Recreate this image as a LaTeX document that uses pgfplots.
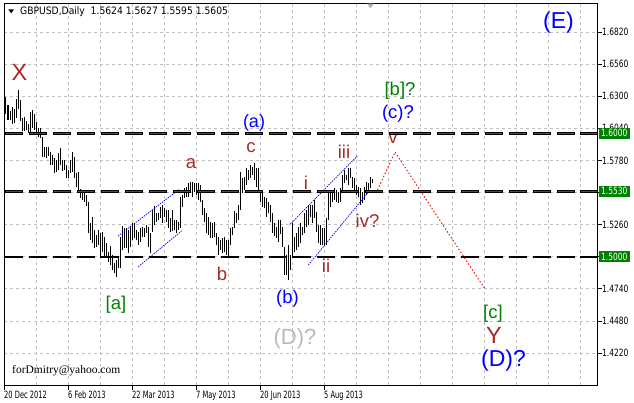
\documentclass[border=0pt]{standalone}
\usepackage{fontspec}
\setmainfont{Liberation Sans}
\newfontfamily\datefont[FakeStretch=0.67]{DejaVu Sans}
\newfontfamily\axfont[FakeStretch=0.75]{DejaVu Sans}
\newfontfamily\hdfont[FakeStretch=0.9]{DejaVu Sans}
\newfontfamily\emailfont{Liberation Serif}
\usepackage{pgfplots}
\usepackage{pgfplotstable}
\pgfplotsset{compat=1.18}
\definecolor{wbrown}{RGB}{165,42,42}
\definecolor{wgreen}{RGB}{0,128,0}
\definecolor{wblue}{RGB}{0,0,255}
\definecolor{wgray}{RGB}{185,185,185}
\definecolor{gridc}{RGB}{192,192,192}

\pgfplotstableread{
x lo hi
1 1.6156 1.6293
2 1.6107 1.6228
3 1.6107 1.6180
4 1.6075 1.6212
5 1.6083 1.6196
6 1.6123 1.6277
7 1.6196 1.6350
8 1.6099 1.6269
9 1.6018 1.6123
10 1.6018 1.6131
11 1.6026 1.6099
12 1.6002 1.6075
13 1.6010 1.6172
14 1.6042 1.6188
15 1.6026 1.6156
16 1.6010 1.6091
17 1.5969 1.6042
18 1.5961 1.6042
19 1.5807 1.5969
20 1.5807 1.5888
21 1.5799 1.5888
22 1.5815 1.5888
23 1.5742 1.5848
24 1.5742 1.5824
25 1.5678 1.5799
26 1.5686 1.5783
27 1.5702 1.5840
28 1.5742 1.5880
29 1.5694 1.5783
30 1.5702 1.5783
31 1.5637 1.5742
32 1.5637 1.5702
33 1.5678 1.5783
34 1.5686 1.5848
35 1.5637 1.5807
36 1.5564 1.5678
37 1.5516 1.5686
38 1.5475 1.5548
39 1.5459 1.5540
40 1.5443 1.5524
41 1.5410 1.5499
42 1.5192 1.5443
43 1.5135 1.5273
44 1.5111 1.5321
45 1.5070 1.5216
46 1.5078 1.5175
47 1.5094 1.5216
48 1.4989 1.5192
49 1.5038 1.5200
50 1.4989 1.5159
51 1.4997 1.5111
52 1.4957 1.5038
53 1.4932 1.5086
54 1.4892 1.5013
55 1.4868 1.4949
56 1.4835 1.4973
57 1.4908 1.4989
58 1.4908 1.5159
59 1.5054 1.5248
60 1.5070 1.5232
61 1.5070 1.5232
62 1.5030 1.5216
63 1.5078 1.5240
64 1.5135 1.5273
65 1.5151 1.5273
66 1.5135 1.5216
67 1.5094 1.5200
68 1.5119 1.5232
69 1.5159 1.5240
70 1.5159 1.5232
71 1.5192 1.5256
72 1.5078 1.5240
73 1.5030 1.5192
74 1.5200 1.5378
75 1.5256 1.5410
76 1.5281 1.5354
77 1.5297 1.5354
78 1.5313 1.5402
79 1.5273 1.5418
80 1.5321 1.5394
81 1.5281 1.5378
82 1.5232 1.5378
83 1.5200 1.5313
84 1.5208 1.5378
85 1.5216 1.5297
86 1.5192 1.5297
87 1.5216 1.5281
88 1.5232 1.5483
89 1.5402 1.5499
90 1.5475 1.5556
91 1.5483 1.5564
92 1.5483 1.5597
93 1.5516 1.5605
94 1.5483 1.5605
95 1.5524 1.5597
96 1.5499 1.5597
97 1.5459 1.5597
98 1.5443 1.5580
99 1.5337 1.5459
100 1.5281 1.5394
101 1.5192 1.5354
102 1.5175 1.5321
103 1.5151 1.5281
104 1.5151 1.5273
105 1.5159 1.5281
106 1.5094 1.5192
107 1.5013 1.5159
108 1.5054 1.5135
109 1.5030 1.5151
110 1.5038 1.5159
111 1.5013 1.5135
112 1.5005 1.5135
113 1.5094 1.5232
114 1.5175 1.5240
115 1.5232 1.5370
116 1.5273 1.5354
117 1.5297 1.5418
118 1.5378 1.5686
119 1.5516 1.5637
120 1.5540 1.5645
121 1.5580 1.5718
122 1.5621 1.5702
123 1.5637 1.5742
124 1.5661 1.5726
125 1.5621 1.5759
126 1.5564 1.5718
127 1.5524 1.5718
128 1.5443 1.5540
129 1.5402 1.5516
130 1.5394 1.5483
131 1.5321 1.5475
132 1.5354 1.5443
133 1.5281 1.5418
134 1.5192 1.5354
135 1.5167 1.5273
136 1.5151 1.5240
137 1.5119 1.5297
138 1.5184 1.5297
139 1.5078 1.5240
140 1.4852 1.5078
141 1.4852 1.5013
142 1.4811 1.5094
143 1.4892 1.5013
144 1.4989 1.5273
145 1.5038 1.5159
146 1.5054 1.5192
147 1.5078 1.5240
148 1.5111 1.5273
149 1.5175 1.5240
150 1.5192 1.5354
151 1.5240 1.5378
152 1.5256 1.5418
153 1.5321 1.5418
154 1.5273 1.5418
155 1.5313 1.5459
156 1.5200 1.5362
157 1.5111 1.5256
158 1.5094 1.5256
159 1.5094 1.5232
160 1.5094 1.5232
161 1.5094 1.5313
162 1.5297 1.5524
163 1.5402 1.5540
164 1.5443 1.5540
165 1.5459 1.5556
166 1.5443 1.5540
167 1.5435 1.5524
168 1.5443 1.5556
169 1.5516 1.5661
170 1.5597 1.5702
171 1.5621 1.5661
172 1.5580 1.5718
173 1.5637 1.5718
174 1.5556 1.5645
175 1.5524 1.5637
176 1.5499 1.5580
177 1.5483 1.5564
178 1.5418 1.5556
179 1.5435 1.5524
180 1.5459 1.5564
181 1.5499 1.5605
182 1.5516 1.5597
183 1.5556 1.5645
184 1.5595 1.5627
}\bars

% centres of the dashes of the three horizontal levels
\pgfplotstableread{
x l1 l2 l3
4.75 1.6 1.553 1.5
16.75 1.6 1.553 1.5
28.75 1.6 1.553 1.5
40.75 1.6 1.553 1.5
52.75 1.6 1.553 1.5
64.75 1.6 1.553 1.5
76.75 1.6 1.553 1.5
88.75 1.6 1.553 1.5
100.75 1.6 1.553 1.5
112.75 1.6 1.553 1.5
124.75 1.6 1.553 1.5
136.75 1.6 1.553 1.5
148.75 1.6 1.553 1.5
160.75 1.6 1.553 1.5
172.75 1.6 1.553 1.5
184.75 1.6 1.553 1.5
196.75 1.6 1.553 1.5
208.75 1.6 1.553 1.5
220.75 1.6 1.553 1.5
232.75 1.6 1.553 1.5
244.75 1.6 1.553 1.5
256.75 1.6 1.553 1.5
268.75 1.6 1.553 1.5
280.75 1.6 1.553 1.5
292.25 1.6 1.553 1.5
}\levels

\begin{document}
\begin{tikzpicture}
\begin{axis}[
  at={(0,0)}, anchor=south west,
  scale only axis, width=593pt, height=382pt,
  xmin=0, xmax=296.5, ymin=1.3961, ymax=1.7055,
  axis line style={black, line width=0.8pt},
  xtick={0,32,64,96,128,160},
  xticklabels={20 Dec 2012,6 Feb 2013,22 Mar 2013,7 May 2013,20 Jun 2013,5 Aug 2013},
  minor xtick={16,48,80,112,144,176,192,208,224,240,256,272,288},
  ytick={1.422,1.448,1.474,1.500,1.526,1.552,1.578,1.604,1.630,1.656,1.682},
  xtick pos=bottom, ytick pos=right, yticklabel pos=right,
  tick align=outside,
  major tick length=5pt, minor tick length=0pt,
  tick style={black, line width=0.7pt},
  grid=both,
  major grid style={gridc, dash pattern=on 3pt off 3pt, line width=0.7pt},
  minor grid style={gridc, dash pattern=on 3pt off 3pt, line width=0.7pt},
  xticklabel style={font=\datefont\fontsize{10}{11}\selectfont, anchor=north west, inner sep=0pt, yshift=-1pt},
  yticklabel style={font=\axfont\fontsize{10}{11}\selectfont, anchor=west, inner sep=0pt, xshift=0pt,
    /pgf/number format/.cd, fixed, fixed zerofill, precision=4, assume math mode=true},
  clip=false,
]
% price bars
\addplot[draw=none, mark=none, forget plot, error bars/.cd, y dir=plus, y explicit, error mark=none,
  error bar style={draw=black, solid, line width=1pt}]
  table[x=x, y=lo, y error expr=\thisrow{hi}-\thisrow{lo}] {\bars};
% channels
\addplot[draw=wblue, mark=none, line width=0.7pt, dash pattern=on 1.5pt off 1pt, forget plot] coordinates {(57,1.5167) (87.65,1.5546)};
\addplot[draw=wblue, mark=none, line width=0.7pt, dash pattern=on 1.5pt off 1pt, forget plot] coordinates {(67.15,1.4919) (88.85,1.5210)};
\addplot[draw=wblue, mark=none, line width=0.7pt, dash pattern=on 1.5pt off 1pt, forget plot] coordinates {(143,1.5262) (176.65,1.5816)};
\addplot[draw=wblue, mark=none, line width=0.7pt, dash pattern=on 1.5pt off 1pt, forget plot] coordinates {(152.15,1.4933) (183,1.5540)};
% projection
\addplot[draw=red, mark=none, line width=0.9pt, dash pattern=on 1.5pt off 2pt, forget plot] coordinates {(186,1.5516) (195.5,1.5848) (240.5,1.4738)};
% horizontal levels: dashes drawn as filled bars (17pt long, 1.3pt thick)
\addplot[only marks, forget plot, mark=square*, mark size=0.65pt,
  mark options={draw=none, fill=wgreen, xscale=13.08}] table[x=x, y=l1] {\levels};
\addplot[only marks, forget plot, mark=square*, mark size=0.65pt,
  mark options={draw=none, fill=wgreen, xscale=13.08}] table[x=x, y=l2] {\levels};
\addplot[only marks, forget plot, mark=square*, mark size=0.65pt,
  mark options={draw=none, fill=wgreen, xscale=13.08}] table[x=x, y=l3] {\levels};

% wave labels
\node[anchor=base, text=wbrown, font=\fontsize{23.5}{24}\selectfont] at (axis cs:7.75,1.6431) {X};
\node[anchor=base, text=wblue, font=\fontsize{18}{20}\selectfont] at (axis cs:125,1.6046) {(a)};
\node[anchor=base, text=wbrown, font=\fontsize{18.5}{20}\selectfont] at (axis cs:93.5,1.5718) {a};
\node[anchor=base, text=wbrown, font=\fontsize{18.5}{20}\selectfont] at (axis cs:123.5,1.5848) {c};
\node[anchor=base, text=wbrown, font=\fontsize{18.5}{20}\selectfont] at (axis cs:151,1.5548) {i};
\node[anchor=base, text=wbrown, font=\fontsize{18.5}{20}\selectfont] at (axis cs:170,1.5799) {iii};
\node[anchor=base, text=wbrown, font=\fontsize{18.5}{20}\selectfont] at (axis cs:194.5,1.5921) {v};
\node[anchor=base, text=wgreen, font=\fontsize{18.5}{20}\selectfont] at (axis cs:198,1.6302) {[b]?};
\node[anchor=base, text=wblue, font=\fontsize{18.5}{20}\selectfont] at (axis cs:197,1.6123) {(c)?};
\node[anchor=base, text=wblue, font=\fontsize{23}{24}\selectfont] at (axis cs:277.25,1.6848) {(E)};
\node[anchor=base, text=wbrown, font=\fontsize{18.5}{20}\selectfont] at (axis cs:181.75,1.5240) {iv?};
\node[anchor=base, text=wbrown, font=\fontsize{18.5}{20}\selectfont] at (axis cs:161,1.4876) {ii};
\node[anchor=base, text=wbrown, font=\fontsize{18.5}{20}\selectfont] at (axis cs:109,1.4811) {b};
\node[anchor=base, text=wgreen, font=\fontsize{18.5}{20}\selectfont] at (axis cs:56,1.4576) {[a]};
\node[anchor=base, text=wblue, font=\fontsize{18.5}{20}\selectfont] at (axis cs:141.75,1.4625) {(b)};
\node[anchor=base, text=wgray, font=\fontsize{22}{24}\selectfont] at (axis cs:145.5,1.4293) {(D)?};
\node[anchor=base, text=wgreen, font=\fontsize{18.5}{20}\selectfont] at (axis cs:244.5,1.4503) {[c]};
\node[anchor=base, text=wbrown, font=\fontsize{23.5}{24}\selectfont] at (axis cs:245,1.4301) {Y};
\node[anchor=base, text=wblue, font=\fontsize{23}{24}\selectfont] at (axis cs:249.75,1.4107) {(D)?};

% email and header
\node[anchor=base west, inner sep=0pt, font=\emailfont\fontsize{11.5}{12}\selectfont] at (axis cs:4,1.4058) {forDmitry@yahoo.com};
\node[anchor=base west, inner sep=0pt, font=\hdfont\fontsize{10.2}{11}\selectfont] at (axis cs:8,1.6958) {GBPUSD,Daily\ \ 1.5624 1.5627 1.5595 1.5605};
\fill[black] (axis cs:2.15,1.7004) -- (axis cs:5,1.7004) -- (axis cs:3.57,1.6971) -- cycle;
\fill[gray!60] (axis cs:181.5,1.7050) -- (axis cs:185,1.7050) -- (axis cs:183.25,1.7013) -- cycle;

% price boxes
\node[anchor=west, fill=wgreen, text=white, inner xsep=2.5pt, inner ysep=1.5pt, font=\axfont\fontsize{10}{11}\selectfont] at (axis cs:296.5,1.6) [xshift=1.5pt] {1.6000};
\node[anchor=west, fill=wgreen, text=white, inner xsep=2.5pt, inner ysep=1.5pt, font=\axfont\fontsize{10}{11}\selectfont] at (axis cs:296.5,1.553) [xshift=1.5pt] {1.5530};
\node[anchor=west, fill=wgreen, text=white, inner xsep=2.5pt, inner ysep=1.5pt, font=\axfont\fontsize{10}{11}\selectfont] at (axis cs:296.5,1.5) [xshift=1.5pt] {1.5000};
\end{axis}
\pgfresetboundingbox
\path[use as bounding box] (-4pt,-18pt) rectangle (630pt,385pt);
\end{tikzpicture}
\end{document}
